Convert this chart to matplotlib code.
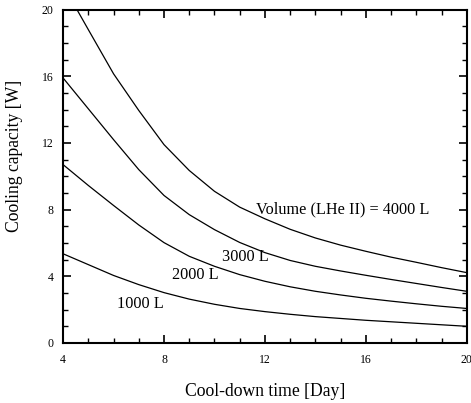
import numpy as np
import matplotlib.pyplot as plt
from matplotlib.ticker import MultipleLocator

plt.rcParams['font.family'] = ['Liberation Serif', 'DejaVu Serif']

# cool-down time [day]
days = [4, 5, 6, 7, 8, 9, 10, 11, 12, 13, 14, 15, 16, 17, 18, 19, 20]
days_4000 = [4.55, 5, 6, 7, 8, 9, 10, 11, 12, 13, 14, 15, 16, 17, 18, 19, 20]

# cooling capacity [W] per LHe II volume
cap_4000 = [20.0, 18.8, 16.15, 13.95, 11.9, 10.35, 9.1, 8.15, 7.45, 6.82, 6.3, 5.87, 5.5, 5.15, 4.84, 4.52, 4.22]
cap_3000 = [15.9, 14.05, 12.2, 10.4, 8.85, 7.7, 6.8, 6.03, 5.42, 4.95, 4.6, 4.32, 4.06, 3.81, 3.57, 3.33, 3.1]
cap_2000 = [10.7, 9.45, 8.25, 7.08, 6.02, 5.2, 4.6, 4.1, 3.7, 3.37, 3.1, 2.88, 2.68, 2.51, 2.35, 2.2, 2.07]
cap_1000 = [5.35, 4.7, 4.05, 3.5, 3.02, 2.63, 2.32, 2.07, 1.88, 1.72, 1.58, 1.47, 1.36, 1.27, 1.18, 1.09, 1.0]

fig = plt.figure(figsize=(4.71, 4.03), dpi=100)
ax = fig.add_axes([0.134, 0.149, 0.857, 0.827])

for x, y in [(days_4000, cap_4000), (days, cap_3000), (days, cap_2000), (days, cap_1000)]:
    ax.plot(x, y, color="black", lw=0.9, solid_joinstyle="round")

ax.text(11.65, 8.0, "Volume (LHe II) = 4000 L", fontsize=11.7, va="center")
ax.text(10.28, 5.15, "3000 L", fontsize=11.7, va="center")
ax.text(8.3, 4.05, "2000 L", fontsize=11.7, va="center")
ax.text(6.13, 2.35, "1000 L", fontsize=11.7, va="center")

ax.set_xlim(4, 20)
ax.set_ylim(0, 20)
ax.xaxis.set_major_locator(MultipleLocator(4))
ax.xaxis.set_minor_locator(MultipleLocator(1))
ax.yaxis.set_major_locator(MultipleLocator(4))
ax.yaxis.set_minor_locator(MultipleLocator(1))
ax.tick_params(which="both", direction="in", top=True, right=True, labelsize=8.5)
ax.tick_params(which="major", length=6, width=1.2)
ax.tick_params(which="minor", length=3.5, width=1)
ax.tick_params(axis="x", pad=8)
ax.tick_params(axis="y", pad=7)
for s in ax.spines.values():
    s.set_linewidth(1.5)

ax.set_xlabel("Cool-down time [Day]", fontsize=12.7, labelpad=12)
ax.set_ylabel("Cooling capacity [W]", fontsize=12.7)
ax.yaxis.set_label_coords(-0.1, 0.56)

plt.savefig("out.png", dpi=100)
